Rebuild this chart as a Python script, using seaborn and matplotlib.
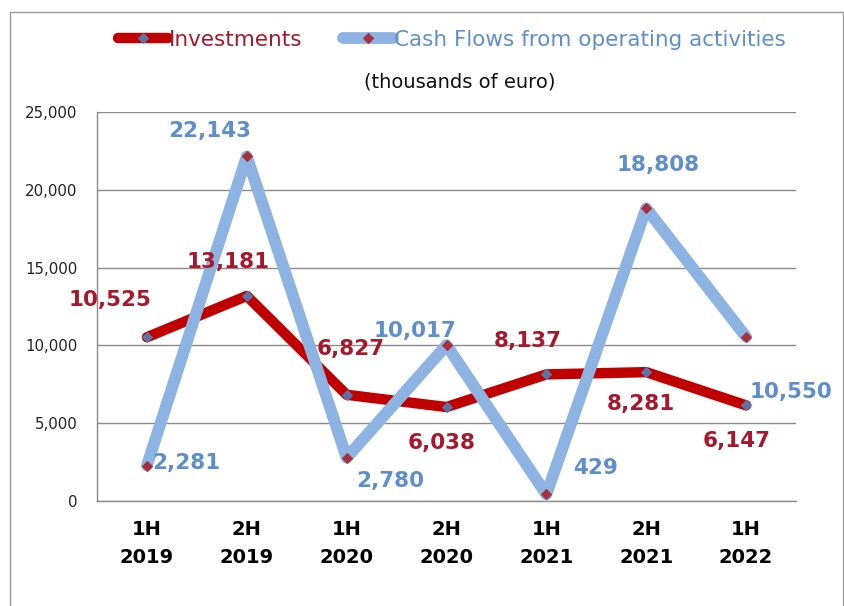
import matplotlib
matplotlib.use("Agg")
import matplotlib.pyplot as plt
import seaborn as sns
import pandas as pd
from matplotlib.patches import Rectangle
from matplotlib.ticker import FuncFormatter, FixedLocator

categories = ["1H\n2019", "2H\n2019", "1H\n2020", "2H\n2020", "1H\n2021", "2H\n2021", "1H\n2022"]
investments = [10525, 13181, 6827, 6038, 8137, 8281, 6147]
cash_flows = [2281, 22143, 2780, 10017, 429, 18808, 10550]
inv_label_offsets = [(-37, 37), (-19, 34), (4, 46), (-5, -36), (-19, 33), (-5, -32), (-9, -36)]
cf_label_offsets = [(39, 3), (-37, 25), (44, -23), (-32, 14), (49, 26), (12, 43), (45, -55)]

RED = "#C00000"
RED_TXT = "#A8182C"
BLUE = "#8DB3E2"
BLUE_TXT = "#5F8FCB"

sns.set_theme(style="white")
plt.rcParams["font.family"] = ["DejaVu Sans"]

fig = plt.figure(figsize=(8.45, 6.06), dpi=100)
ax = fig.add_axes([97 / 845, 1 - 501 / 606, (796 - 97) / 845, (501 - 112) / 606])

df = pd.DataFrame({"idx": range(len(categories)), "inv": investments, "cf": cash_flows})

sns.lineplot(data=df, x="idx", y="inv", ax=ax, color=RED, linewidth=7.5, marker="D",
             markersize=5, markerfacecolor="#5B74A6", markeredgecolor="#5B74A6",
             label="Investments", zorder=3, sort=False)
sns.lineplot(data=df, x="idx", y="cf", ax=ax, color=BLUE, linewidth=8.5, marker="D",
             markersize=5, markerfacecolor="#A8303C", markeredgecolor="#A8303C",
             label="Cash Flows from operating activities", zorder=4, sort=False)

for i, (v, off) in enumerate(zip(investments, inv_label_offsets)):
    ax.annotate(f"{v:,}", (i, v), xytext=off, textcoords="offset pixels",
                ha="center", va="center", color=RED_TXT, fontsize=15.5,
                fontweight="bold", zorder=10)
for i, (v, off) in enumerate(zip(cash_flows, cf_label_offsets)):
    ax.annotate(f"{v:,}", (i, v), xytext=off, textcoords="offset pixels",
                ha="center", va="center", color=BLUE_TXT, fontsize=15.5,
                fontweight="bold", zorder=10, annotation_clip=False)

ax.set_xlim(-0.5, len(categories) - 0.5)
ax.set_ylim(0, 25000)
ax.set_yticks(range(0, 25001, 5000))
ax.yaxis.set_major_formatter(FuncFormatter(lambda v, p: f"{int(v):,}"))
ax.set_xticks(range(len(categories)))
ax.set_xticklabels(categories, fontsize=14, fontweight="bold", linespacing=1.6)
ax.xaxis.set_minor_locator(FixedLocator([i - 0.5 for i in range(len(categories) + 1)]))
ax.tick_params(axis="x", which="major", length=0, pad=14, colors="black")
ax.tick_params(axis="x", which="minor", length=5, width=1, color="#8a8a8a", direction="out")
ax.tick_params(axis="y", length=6, width=1, color="#8a8a8a", direction="out", labelsize=10.8,
               pad=8, labelcolor="#222222")
ax.grid(axis="y", color="#8a8a8a", linewidth=1)
ax.set_axisbelow(True)
for s in ["top", "right"]:
    ax.spines[s].set_visible(False)
for s in ["left", "bottom"]:
    ax.spines[s].set_color("#8a8a8a")
    ax.spines[s].set_linewidth(1)
ax.set_xlabel("")
ax.set_ylabel("")

leg = ax.legend(loc="center", bbox_to_anchor=(0.535, 0.934), bbox_transform=fig.transFigure,
                ncol=2, frameon=False, fontsize=15.5, handlelength=2.3, handletextpad=0.05,
                columnspacing=1.9)
for t, c in zip(leg.get_texts(), [RED_TXT, BLUE_TXT]):
    t.set_color(c)

fig.text(460 / 845, 1 - 82 / 606, "(thousands of euro)", ha="center", va="center",
         fontsize=14, color="#111111")

fig.patches.append(Rectangle((10 / 845, -0.05), (843 - 10) / 845, 1.05 - 12 / 606,
                             transform=fig.transFigure, fill=False, edgecolor="#9a9a9a",
                             linewidth=1))

fig.savefig("out.png", dpi=100)
